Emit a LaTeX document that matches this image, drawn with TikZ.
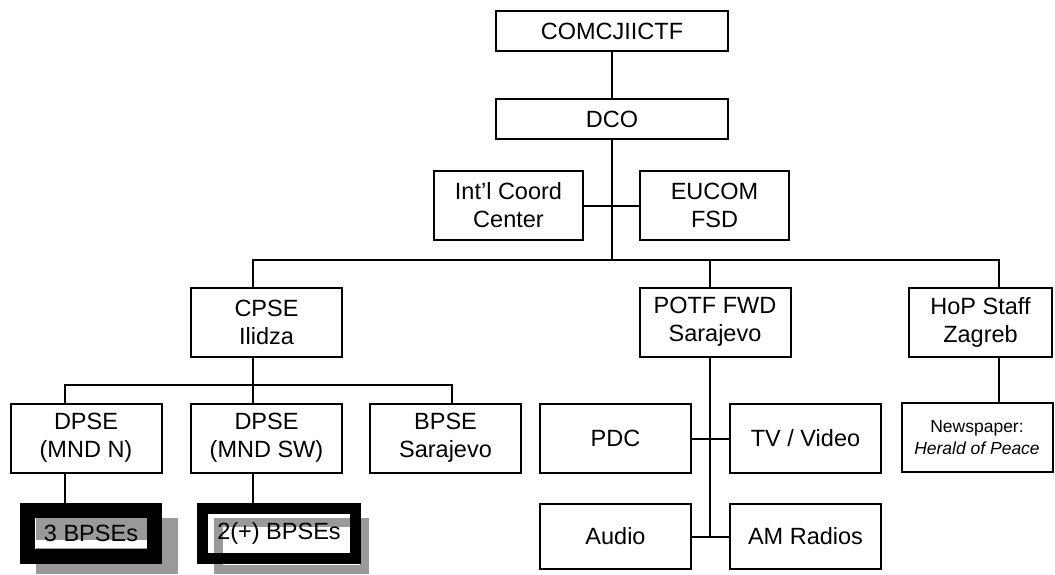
\documentclass[tikz,border=0pt]{standalone}
\usepackage{fontspec}
\setmainfont{Liberation Sans}

\begin{document}
\begin{tikzpicture}[x=1pt,y=-1pt,
    unit/.style={draw,line width=2pt,fill=white,align=center,inner sep=0pt,
      minimum width=151pt,minimum height=69pt,font=\fontsize{23.5}{28}\selectfont},
    heavy/.style={draw,inner sep=0pt,font=\fontsize{23.5}{28}\selectfont},
    wire/.style={line width=2pt}]
  \definecolor{shadowgray}{RGB}{153,153,153}
  \useasboundingbox (0,0) rectangle (1055,575);
  % command chain
  \node[unit,minimum width=232pt,minimum height=40pt] (cjtf) at (612,31) {COMCJIICTF};
  \node[unit,minimum width=232pt,minimum height=40pt] (dco) at (612,119) {DCO};
  \node[unit,minimum width=149pt] (icc) at (508.5,205.5) {Int'l Coord\\Center};
  \node[unit,minimum width=149pt] (eucom) at (714.5,205.5) {EUCOM\\FSD};
  \node[unit] (cpse) at (266.5,322) {CPSE\\Ilidza};
  \node[unit] (potf) at (715,322) {POTF FWD\\Sarajevo};
  \node[unit,minimum width=143pt] (hop) at (980.5,322) {HoP Staff\\Zagreb};
  % subordinate elements
  \node[unit] (dpsen) at (86,438) {DPSE\\(MND N)};
  \node[unit] (dpsesw) at (266.5,438) {DPSE\\(MND SW)};
  \node[unit] (bpse) at (445.5,438) {BPSE\\Sarajevo};
  \node[unit] (pdc) at (615.5,438.5) {PDC};
  \node[unit] (tv) at (805.5,438.5) {TV / Video};
  \node[unit,minimum height=65pt] (audio) at (615.5,536.5) {Audio};
  \node[unit,minimum height=65pt] (am) at (805.5,536.5) {AM Radios};
  \node[unit,font=\fontsize{17.5}{22}\selectfont] (news) at (977,437.5) {Newspaper:\\\textit{Herald of Peace}};
  % BPSE boxes with shadows
  \fill[shadowgray] (36,518) rectangle (178,574);
  \fill[white] (36,540) rectangle (147,548);
  \node[heavy,line width=15pt,minimum width=127pt,minimum height=46pt] (bp3) at (91,533.5) {3 BPSEs};
  \draw[shadowgray,line width=9pt] (218.5,522.5) rectangle (364.5,569.5);
  \node[heavy,line width=11pt,minimum width=153pt,minimum height=50pt] (bp2) at (279,533.5) {2(+) BPSEs};
  % junctions
  \coordinate (jtop) at (612,260);
  \coordinate (jcpse) at (253,260);
  \coordinate (jpotf) at (710,260);
  \coordinate (jhop) at (999,260);
  \coordinate (kdpn) at (65,385);
  \coordinate (kcpse) at (253,385);
  \coordinate (kbpse) at (452,385);
  % connectors
  \draw[wire] (cjtf) -- (dco);
  \draw[wire] (dco) -- (jtop);
  \draw[wire] (icc) -- (eucom);
  \draw[wire] (jcpse |- cpse.north) -- (jcpse) -- (jhop) -- (jhop |- hop.north);
  \draw[wire] (jpotf) -- (jpotf |- potf.north);
  \draw[wire] (jhop |- hop.south) -- (jhop |- news.north);
  \draw[wire] (kcpse |- cpse.south) -- (kcpse);
  \draw[wire] (kdpn |- dpsen.north) -- (kdpn) -- (kbpse) -- (kbpse |- bpse.north);
  \draw[wire] (kcpse) -- (kcpse |- dpsesw.north);
  \draw[wire] (jpotf |- potf.south) -- (jpotf |- am.west);
  \draw[wire] (pdc) -- (tv);
  \draw[wire] (audio) -- (am);
  \draw[wire] (kdpn |- dpsen.south) -- (kdpn |- bp3.north);
  \draw[wire] (kcpse |- dpsesw.south) -- (kcpse |- bp2.north);
\end{tikzpicture}
\end{document}
